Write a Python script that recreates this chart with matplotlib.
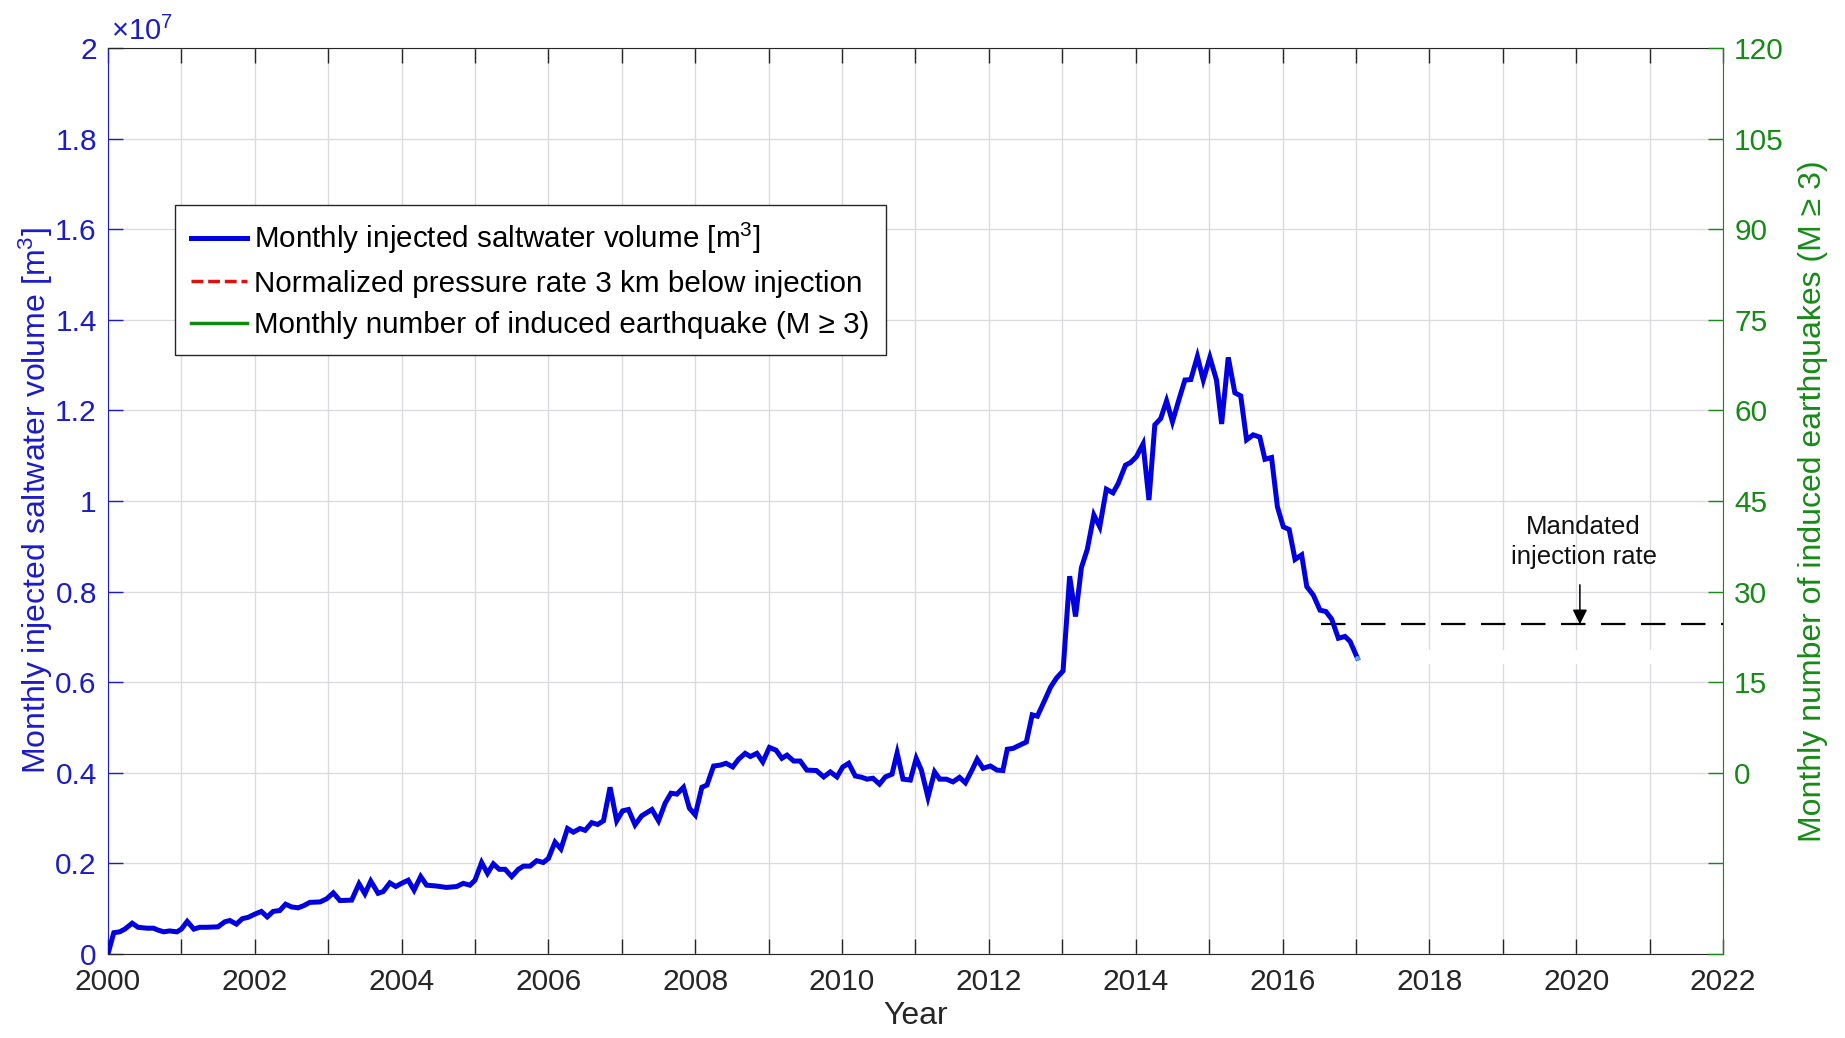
import numpy as np
import matplotlib
matplotlib.use('Agg')
import matplotlib.pyplot as plt
from matplotlib.ticker import FuncFormatter

plt.rcParams['font.family'] = ['Liberation Sans', 'DejaVu Sans']
plt.rcParams['mathtext.fontset'] = 'custom'
plt.rcParams['mathtext.rm'] = 'Liberation Sans'
plt.rcParams['mathtext.it'] = 'Liberation Sans:italic'

# monthly injected saltwater volume, in units of 1e7 m^3
years = [
    2000.00, 2000.08, 2000.16, 2000.23, 2000.33, 2000.41, 2000.53, 2000.62, 2000.68, 2000.76,
    2000.84, 2000.94, 2001.00, 2001.08, 2001.17, 2001.25, 2001.34, 2001.50, 2001.59, 2001.66,
    2001.75, 2001.83, 2001.91, 2002.00, 2002.09, 2002.17, 2002.25, 2002.34, 2002.42, 2002.50,
    2002.59, 2002.67, 2002.75, 2002.89, 2002.98, 2003.07, 2003.16, 2003.32, 2003.42, 2003.50,
    2003.58, 2003.68, 2003.75, 2003.84, 2003.92, 2004.00, 2004.09, 2004.17, 2004.26, 2004.34,
    2004.48, 2004.61, 2004.75, 2004.84, 2004.93, 2005.00, 2005.09, 2005.17, 2005.25, 2005.33,
    2005.41, 2005.50, 2005.59, 2005.66, 2005.75, 2005.84, 2005.93, 2006.00, 2006.09, 2006.17,
    2006.26, 2006.34, 2006.43, 2006.50, 2006.59, 2006.67, 2006.75, 2006.84, 2006.93, 2007.01,
    2007.09, 2007.18, 2007.27, 2007.41, 2007.50, 2007.59, 2007.67, 2007.75, 2007.84, 2007.92,
    2008.00, 2008.09, 2008.16, 2008.25, 2008.34, 2008.42, 2008.51, 2008.59, 2008.68, 2008.75,
    2008.84, 2008.92, 2009.01, 2009.10, 2009.18, 2009.25, 2009.34, 2009.43, 2009.52, 2009.65,
    2009.75, 2009.84, 2009.93, 2010.01, 2010.09, 2010.18, 2010.27, 2010.34, 2010.42, 2010.51,
    2010.59, 2010.68, 2010.75, 2010.83, 2010.93, 2011.01, 2011.08, 2011.17, 2011.26, 2011.33,
    2011.42, 2011.51, 2011.60, 2011.68, 2011.77, 2011.84, 2011.92, 2012.02, 2012.11, 2012.19,
    2012.25, 2012.33, 2012.42, 2012.51, 2012.59, 2012.66, 2012.74, 2012.84, 2012.92, 2013.01,
    2013.10, 2013.18, 2013.26, 2013.34, 2013.43, 2013.51, 2013.60, 2013.69, 2013.76, 2013.86,
    2013.93, 2014.01, 2014.10, 2014.18, 2014.26, 2014.34, 2014.42, 2014.50, 2014.60, 2014.67,
    2014.75, 2014.84, 2014.92, 2015.01, 2015.10, 2015.17, 2015.26, 2015.35, 2015.43, 2015.51,
    2015.60, 2015.69, 2015.76, 2015.85, 2015.93, 2016.01, 2016.09, 2016.17, 2016.26, 2016.33,
    2016.42, 2016.51, 2016.59, 2016.67, 2016.76, 2016.85, 2016.92, 2017.02,
]
volume_1e7 = [
    0.000, 0.047, 0.049, 0.055, 0.068, 0.059, 0.057, 0.057, 0.053, 0.049,
    0.051, 0.049, 0.055, 0.072, 0.055, 0.059, 0.059, 0.060, 0.071, 0.074,
    0.066, 0.078, 0.081, 0.088, 0.094, 0.082, 0.094, 0.096, 0.110, 0.104,
    0.102, 0.107, 0.114, 0.115, 0.122, 0.135, 0.118, 0.119, 0.155, 0.133,
    0.161, 0.134, 0.138, 0.157, 0.149, 0.156, 0.163, 0.141, 0.171, 0.152,
    0.150, 0.147, 0.149, 0.156, 0.152, 0.163, 0.202, 0.178, 0.199, 0.187,
    0.187, 0.171, 0.187, 0.194, 0.194, 0.206, 0.202, 0.211, 0.247, 0.232,
    0.277, 0.269, 0.277, 0.273, 0.290, 0.286, 0.294, 0.368, 0.294, 0.316,
    0.319, 0.285, 0.305, 0.319, 0.294, 0.333, 0.355, 0.353, 0.368, 0.322,
    0.307, 0.368, 0.373, 0.415, 0.417, 0.421, 0.413, 0.430, 0.443, 0.436,
    0.443, 0.424, 0.456, 0.450, 0.432, 0.439, 0.426, 0.426, 0.406, 0.405,
    0.391, 0.402, 0.391, 0.413, 0.421, 0.393, 0.390, 0.386, 0.388, 0.375,
    0.391, 0.397, 0.444, 0.386, 0.384, 0.432, 0.406, 0.346, 0.402, 0.386,
    0.386, 0.380, 0.390, 0.378, 0.406, 0.430, 0.410, 0.415, 0.406, 0.405,
    0.452, 0.454, 0.461, 0.468, 0.528, 0.525, 0.553, 0.589, 0.609, 0.625,
    0.834, 0.745, 0.853, 0.893, 0.969, 0.943, 1.026, 1.018, 1.038, 1.079,
    1.085, 1.098, 1.126, 1.002, 1.168, 1.182, 1.221, 1.175, 1.230, 1.267,
    1.268, 1.319, 1.267, 1.317, 1.267, 1.170, 1.317, 1.239, 1.232, 1.135,
    1.146, 1.141, 1.092, 1.096, 0.987, 0.943, 0.937, 0.871, 0.881, 0.811,
    0.792, 0.759, 0.756, 0.739, 0.697, 0.701, 0.690, 0.653,
]

mandated_rate = 0.728e7
mandated_start, mandated_end = 2016.52, 2022.0

BLUE = '#0000e0'
AXBLUE = '#1c1cc8'
GREEN = '#168a16'
DARK = '#262626'

fig = plt.figure(figsize=(18.45, 10.38), dpi=100)
ax = fig.add_axes([0.0585, 0.0809, 0.8754, 0.8729])

vol = np.array(volume_1e7) * 1e7
ax.plot(years, vol, color=BLUE, lw=3.6, solid_joinstyle='miter', zorder=5,
        label='Monthly injected saltwater volume [m$^3$]')
ax.plot(years[-1], vol[-1], 'o', ms=2.5, color='#55aaff', zorder=6)
ax.plot([], [], color='#e01010', lw=2.5, ls=(0, (3.4, 1.4)),
        label='Normalized pressure rate 3 km below injection')
ax.plot([], [], color='#108a10', lw=2.5,
        label='Monthly number of induced earthquake (M \u2265 3)')

# white band under the mandated rate line
ax.fill_between([2017.0, 2021.7], 0.640e7, 0.671e7, color='white', lw=0, zorder=2)

ax.plot([mandated_start, mandated_end], [mandated_rate, mandated_rate],
        color='black', lw=1.6, ls=(0, (11, 7)), zorder=4)
ax.annotate('', xy=(2020.05, mandated_rate), xytext=(2020.05, 0.815e7),
            arrowprops=dict(arrowstyle='-|>', color='black', lw=1.1,
                            mutation_scale=22, shrinkA=0, shrinkB=0), zorder=6)
ax.text(2020.1, 0.85e7, 'Mandated\ninjection rate', ha='center', va='bottom',
        fontsize=18.5, linespacing=1.3, color='#111111')

ax.set_xlim(2000, 2022)
ax.set_ylim(0, 2e7)
ax.set_xticks(np.arange(2000, 2023, 1))
ax.set_xticklabels([str(y) if y % 2 == 0 else '' for y in range(2000, 2023)])
ax.set_yticks(np.arange(0, 2.01e7, 0.2e7))
ax.yaxis.set_major_formatter(FuncFormatter(lambda v, p: f'{v / 1e7:g}'))
ax.grid(True, color='#dcdce0', lw=1.0, zorder=0)
ax.set_axisbelow(True)

ax.tick_params(axis='x', direction='in', length=11, width=1, top=True,
               labelsize=21.5, colors=DARK, pad=10)
ax.tick_params(axis='y', direction='in', length=11, width=1, labelsize=21.5,
               colors=AXBLUE, pad=8)
ax.spines['left'].set_color(AXBLUE)
ax.spines['right'].set_visible(False)
ax.spines['top'].set_color(DARK)
ax.spines['bottom'].set_color(DARK)
ax.set_xlabel('Year', fontsize=23, color=DARK, labelpad=4)
ax.set_ylabel('Monthly injected saltwater volume [m$^3$]', fontsize=23,
              color=AXBLUE, labelpad=0)
ax.text(0.002, 1.002, '$\\times$10$^7$', transform=ax.transAxes, ha='left',
        va='bottom', fontsize=21, color=AXBLUE)

leg = ax.legend(loc='upper left', bbox_to_anchor=(0.0415, 0.8267), fontsize=21.3,
                frameon=True, fancybox=False, edgecolor=DARK, framealpha=1,
                handlelength=1.9, handletextpad=0.22, borderpad=0.55,
                labelspacing=0.45, borderaxespad=0)
leg.get_frame().set_linewidth(1.0)

# right axis: monthly earthquake count
ax2 = ax.twinx()
ax2.set_ylim(-30, 120)
ax2.set_yticks(np.arange(-30, 121, 15))
ax2.set_yticklabels(['' if t < 0 else str(t) for t in range(-30, 121, 15)])
ax2.tick_params(axis='y', direction='in', length=11, width=1, labelsize=21.5,
                colors=GREEN, pad=8)
for s in ('left', 'top', 'bottom'):
    ax2.spines[s].set_visible(False)
ax2.spines['right'].set_color(GREEN)
ax2.set_ylabel('Monthly number of induced earthquakes (M \u2265 3)', fontsize=23,
               color=GREEN, labelpad=10)

fig.savefig('out.png', dpi=100)
